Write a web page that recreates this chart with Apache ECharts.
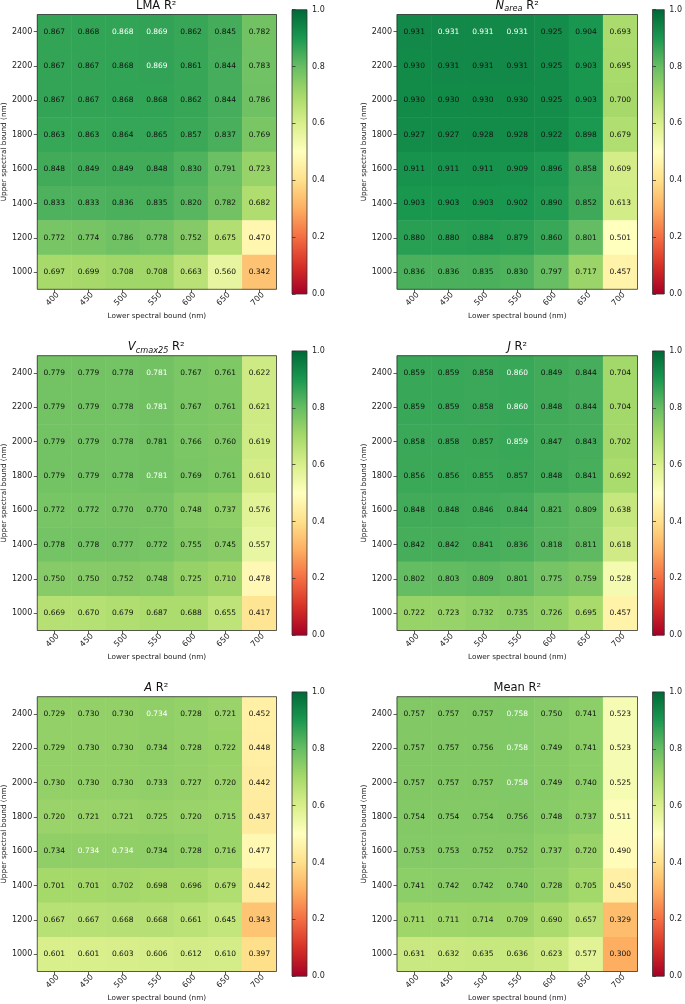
<!DOCTYPE html>
<html>
<head>
<meta charset="utf-8">
<script src="https://cdn.jsdelivr.net/npm/echarts@6/dist/echarts.min.js"></script>
<style>
html,body{margin:0;padding:0;background:#fff;}
#chart{width:685px;height:1004px;}
</style>
</head>
<body>
<div id="chart"></div>
<script>
// ---------- data ----------
const lowerBounds = ['400', '450', '500', '550', '600', '650', '700'];
const upperBounds = ['1000', '1200', '1400', '1600', '1800', '2000', '2200', '2400'];
const colorbarTicks = [0, 0.2, 0.4, 0.6, 0.8, 1.0];

// rows listed from upper bound 2400 (top) down to 1000 (bottom)
const lmaR2 = [
  [0.867, 0.868, 0.868, 0.869, 0.862, 0.845, 0.782],
  [0.867, 0.867, 0.868, 0.869, 0.861, 0.844, 0.783],
  [0.867, 0.867, 0.868, 0.868, 0.862, 0.844, 0.786],
  [0.863, 0.863, 0.864, 0.865, 0.857, 0.837, 0.769],
  [0.848, 0.849, 0.849, 0.848, 0.830, 0.791, 0.723],
  [0.833, 0.833, 0.836, 0.835, 0.820, 0.782, 0.682],
  [0.772, 0.774, 0.786, 0.778, 0.752, 0.675, 0.470],
  [0.697, 0.699, 0.708, 0.708, 0.663, 0.560, 0.342]
];
const nareaR2 = [
  [0.931, 0.931, 0.931, 0.931, 0.925, 0.904, 0.693],
  [0.930, 0.931, 0.931, 0.931, 0.925, 0.903, 0.695],
  [0.930, 0.930, 0.930, 0.930, 0.925, 0.903, 0.700],
  [0.927, 0.927, 0.928, 0.928, 0.922, 0.898, 0.679],
  [0.911, 0.911, 0.911, 0.909, 0.896, 0.858, 0.609],
  [0.903, 0.903, 0.903, 0.902, 0.890, 0.852, 0.613],
  [0.880, 0.880, 0.884, 0.879, 0.860, 0.801, 0.501],
  [0.836, 0.836, 0.835, 0.830, 0.797, 0.717, 0.457]
];
const vcmaxR2 = [
  [0.779, 0.779, 0.778, 0.781, 0.767, 0.761, 0.622],
  [0.779, 0.779, 0.778, 0.781, 0.767, 0.761, 0.621],
  [0.779, 0.779, 0.778, 0.781, 0.766, 0.760, 0.619],
  [0.779, 0.779, 0.778, 0.781, 0.769, 0.761, 0.610],
  [0.772, 0.772, 0.770, 0.770, 0.748, 0.737, 0.576],
  [0.778, 0.778, 0.777, 0.772, 0.755, 0.745, 0.557],
  [0.750, 0.750, 0.752, 0.748, 0.725, 0.710, 0.478],
  [0.669, 0.670, 0.679, 0.687, 0.688, 0.655, 0.417]
];
const jR2 = [
  [0.859, 0.859, 0.858, 0.860, 0.849, 0.844, 0.704],
  [0.859, 0.859, 0.858, 0.860, 0.848, 0.844, 0.704],
  [0.858, 0.858, 0.857, 0.859, 0.847, 0.843, 0.702],
  [0.856, 0.856, 0.855, 0.857, 0.848, 0.841, 0.692],
  [0.848, 0.848, 0.846, 0.844, 0.821, 0.809, 0.638],
  [0.842, 0.842, 0.841, 0.836, 0.818, 0.811, 0.618],
  [0.802, 0.803, 0.809, 0.801, 0.775, 0.759, 0.528],
  [0.722, 0.723, 0.732, 0.735, 0.726, 0.695, 0.457]
];
const aR2 = [
  [0.729, 0.730, 0.730, 0.734, 0.728, 0.721, 0.452],
  [0.729, 0.730, 0.730, 0.734, 0.728, 0.722, 0.448],
  [0.730, 0.730, 0.730, 0.733, 0.727, 0.720, 0.442],
  [0.720, 0.721, 0.721, 0.725, 0.720, 0.715, 0.437],
  [0.734, 0.734, 0.734, 0.734, 0.728, 0.716, 0.477],
  [0.701, 0.701, 0.702, 0.698, 0.696, 0.679, 0.442],
  [0.667, 0.667, 0.668, 0.668, 0.661, 0.645, 0.343],
  [0.601, 0.601, 0.603, 0.606, 0.612, 0.610, 0.397]
];
const meanR2 = [
  [0.757, 0.757, 0.757, 0.758, 0.750, 0.741, 0.523],
  [0.757, 0.757, 0.756, 0.758, 0.749, 0.741, 0.523],
  [0.757, 0.757, 0.757, 0.758, 0.749, 0.740, 0.525],
  [0.754, 0.754, 0.754, 0.756, 0.748, 0.737, 0.511],
  [0.753, 0.753, 0.752, 0.752, 0.737, 0.720, 0.490],
  [0.741, 0.742, 0.742, 0.740, 0.728, 0.705, 0.450],
  [0.711, 0.711, 0.714, 0.709, 0.690, 0.657, 0.329],
  [0.631, 0.632, 0.635, 0.636, 0.623, 0.577, 0.300]
];
// cells whose label is drawn in white: [column, row-from-top]
const lmaWhite = [[2, 0], [3, 0], [3, 1]];
const nareaWhite = [[1, 0], [2, 0], [3, 0]];
const vcmaxWhite = [[3, 0], [3, 1], [3, 3]];
const jWhite = [[3, 0], [3, 1], [3, 2]];
const aWhite = [[3, 0], [1, 4], [2, 4]];
const meanWhite = [[3, 0], [3, 1], [3, 2]];

// ---------- styling / layout ----------
const FONT = 'DejaVu Sans';
const RdYlGn = ['#a50026', '#d73027', '#f46d43', '#fdae61', '#fee08b', '#ffffbf',
                '#d9ef8b', '#a6d96a', '#66bd63', '#1a9850', '#006837'];
const plotLeft = [36, 397];
const plotW = 240.5;
const plotTop = [14.5, 355.7, 696.7];
const plotH = 274.8;
const cbLeft = [292, 652.5];
const cbW = 15;
const cbTopOff = -4.8;
const cbH = 284.3;

const titleRich = {
  n: { fontFamily: FONT, fontSize: 11.5, fontWeight: 'normal', color: '#111', lineHeight: 14 },
  i: { fontFamily: FONT, fontSize: 11.5, fontWeight: 'normal', fontStyle: 'italic', color: '#111', lineHeight: 14 },
  sub: { fontFamily: FONT, fontSize: 8.2, fontWeight: 'normal', fontStyle: 'italic', color: '#111', lineHeight: 14, verticalAlign: 'bottom', padding: [5, 0, 0, 0] }
};

const panels = [
  { title: '{n|LMA R²}', values: lmaR2, white: lmaWhite },
  { title: '{i|N}{sub|area}{n| R²}', values: nareaR2, white: nareaWhite },
  { title: '{i|V}{sub|cmax25}{n| R²}', values: vcmaxR2, white: vcmaxWhite },
  { title: '{i|J}{n| R²}', values: jR2, white: jWhite },
  { title: '{i|A}{n| R²}', values: aR2, white: aWhite },
  { title: '{n|Mean R²}', values: meanR2, white: meanWhite }
];

const grids = [], xAxes = [], yAxes = [], series = [], titles = [];
const axisLabelBase = { fontFamily: FONT, fontSize: 8, color: '#222' };
const tickBase = { show: true, length: 3.5, lineStyle: { color: '#333', width: 0.8 } };

panels.forEach((p, k) => {
  const col = k % 2, row = Math.floor(k / 2);
  const L = plotLeft[col], T = plotTop[row];
  const gi = grids.length;
  grids.push({ left: L, top: T, width: plotW, height: plotH, show: true,
    borderColor: '#333', borderWidth: 0.8, backgroundColor: 'transparent', z: 3 });
  xAxes.push({ type: 'category', gridIndex: gi, data: lowerBounds,
    axisLine: { show: false }, axisTick: Object.assign({ alignWithLabel: true }, tickBase),
    axisLabel: Object.assign({ rotate: 45, align: 'center', verticalAlign: 'middle', margin: 8, padding: [0, 5, 0, 0], interval: 0 }, axisLabelBase),
    splitLine: { show: false }, splitArea: { show: false },
    name: 'Lower spectral bound (nm)', nameLocation: 'middle', nameGap: 23,
    nameTextStyle: { fontFamily: FONT, fontSize: 7.3, color: '#222' } });
  yAxes.push({ type: 'category', gridIndex: gi, data: upperBounds,
    axisLine: { show: false }, axisTick: Object.assign({ alignWithLabel: true }, tickBase),
    axisLabel: Object.assign({ margin: 5, interval: 0 }, axisLabelBase),
    splitLine: { show: false }, splitArea: { show: false },
    name: 'Upper spectral bound (nm)', nameLocation: 'middle', nameGap: 26, nameRotate: 90,
    nameTextStyle: { fontFamily: FONT, fontSize: 7.3, color: '#222' } });
  const data = [];
  const whiteSet = new Set(p.white.map(w => w[0] + ',' + w[1]));
  p.values.forEach((r, ri) => {
    r.forEach((v, ci) => {
      const item = { value: [ci, upperBounds.length - 1 - ri, v] };
      if (whiteSet.has(ci + ',' + ri)) item.label = { color: '#ffffff' };
      data.push(item);
    });
  });
  series.push({ type: 'heatmap', xAxisIndex: gi, yAxisIndex: gi, data: data,
    itemStyle: { borderWidth: 0 },
    label: { show: true, fontFamily: FONT, fontSize: 7.5, color: '#111',
      formatter: (pr) => pr.value[2].toFixed(3) },
    emphasis: { disabled: true }, progressive: 0, animation: false });
  titles.push({ text: p.title, left: L + plotW / 2, top: T - 8.3 - 7, textAlign: 'center', padding: 0,
    textStyle: { fontWeight: 'normal', rich: titleRich } });

  // colorbar
  const ci = grids.length;
  grids.push({ left: cbLeft[col], top: T + cbTopOff, width: cbW, height: cbH, show: true,
    borderColor: '#333', borderWidth: 0.8,
    backgroundColor: { type: 'linear', x: 0, y: 0, x2: 0, y2: 1,
      colorStops: RdYlGn.slice().reverse().map((c, j) => ({ offset: j / (RdYlGn.length - 1), color: c })) } });
  xAxes.push({ type: 'value', gridIndex: ci, show: false, min: 0, max: 1 });
  yAxes.push({ type: 'value', gridIndex: ci, position: 'right',
    min: colorbarTicks[0], max: colorbarTicks[colorbarTicks.length - 1], interval: colorbarTicks[1] - colorbarTicks[0],
    axisLine: { show: false }, axisTick: tickBase,
    axisLabel: Object.assign({ margin: 5, formatter: (v) => v.toFixed(1) }, axisLabelBase),
    splitLine: { show: false } });
});

const chart = echarts.init(document.getElementById('chart'), null, { renderer: 'canvas' });
chart.setOption({
  animation: false,
  backgroundColor: '#ffffff',
  title: titles,
  grid: grids,
  xAxis: xAxes,
  yAxis: yAxes,
  visualMap: { show: false, type: 'continuous', min: 0, max: 1, dimension: 2,
    seriesIndex: series.map((s, i) => i), inRange: { color: RdYlGn } },
  series: series
});
</script>
</body>
</html>
